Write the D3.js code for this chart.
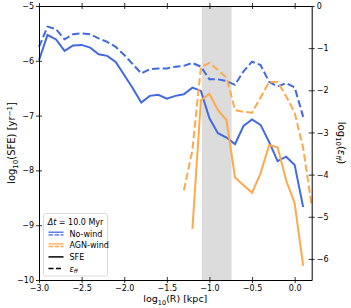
<!DOCTYPE html>
<html>
<head>
<meta charset="utf-8">
<script src="https://cdn.jsdelivr.net/npm/d3@7"></script>
<style>
  body { margin: 0; background: #fff; }
  text { font-family: "DejaVu Sans", sans-serif; fill: #000; }
</style>
</head>
<body>
<div id="canvas"></div>
<script>
// log10(R) [kpc]
const radius = [-3.0, -2.9, -2.8, -2.7, -2.6, -2.5, -2.4, -2.3, -2.2, -2.1, -2.0,
  -1.9, -1.8, -1.7, -1.6, -1.5, -1.4, -1.3, -1.2, -1.1, -1.0,
  -0.9, -0.8, -0.7, -0.6, -0.5, -0.4, -0.3, -0.2, -0.1, 0.0, 0.1, 0.2];

// log10(SFE), left axis
const noWindSFE = [-5.99, -5.53, -5.61, -5.82, -5.72, -5.71, -5.76, -5.88, -5.91, -6.02, -6.26,
  -6.50, -6.76, -6.64, -6.62, -6.69, -6.64, -6.61, -6.49, -6.55, -7.05,
  -7.32, -7.40, -7.52, -7.19, -7.07, -7.17, -7.48, -7.83, -7.75, -7.90, -8.67, null];
const agnWindSFE = [null, null, null, null, null, null, null, null, null, null, null,
  null, null, null, null, null, null, null, -9.07, -6.72, -6.60,
  -6.90, -7.08, -8.13, -8.27, -8.41, -8.05, -7.54, -7.58, -8.18, -8.60, -9.74, null];

// log10(eps_ff), right axis
const noWindEff = [-0.97, -0.49, -0.55, -0.79, -0.67, -0.65, -0.67, -0.77, -0.85, -0.97, -1.16,
  -1.38, -1.60, -1.50, -1.48, -1.48, -1.44, -1.42, -1.35, -1.44, -1.74,
  -1.74, -1.78, -1.87, -1.55, -1.32, -1.40, -1.80, -1.91, -1.83, -1.93, -2.63, null];
const agnWindEff = [null, null, null, null, null, null, null, null, null, null, null,
  null, null, null, null, null, null, -4.37, -3.42, -1.45, -1.35,
  -1.52, -1.70, -2.47, -2.51, -2.53, -2.17, -1.80, -1.80, -2.14, -2.53, -3.37, -4.74];

const band = [-1.09, -0.74];
const xTicks = [-3.0, -2.5, -2.0, -1.5, -1.0, -0.5, 0.0];
const yTicksLeft = [-5, -6, -7, -8, -9, -10];
const yTicksRight = [0, -1, -2, -3, -4, -5, -6];

const width = 351;
const height = 308;
const margin = { top: 6, left: 39, bottom: 28, right: 39.3 };
const iwidth = width - margin.left - margin.right;
const iheight = height - margin.top - margin.bottom;

const blue = "#4169e1";
const orange = "#ffa94d";

const svg = d3.select("#canvas").append("svg")
  .attr("width", width)
  .attr("height", height);

const g = svg.append("g").attr("transform", `translate(${margin.left},${margin.top})`);

const x = d3.scaleLinear().domain([-3.0, 0.2]).range([0, iwidth]);
const yL = d3.scaleLinear().domain([-10, -5]).range([iheight, 0]);
const yR = d3.scaleLinear().domain([-6.5, 0]).range([iheight, 0]);

const fmt = v => (v < 0 ? "\u2212" : "") + Math.abs(v).toFixed(1);
const fmtInt = v => (v < 0 ? "\u2212" : "") + Math.abs(v);

// shaded region
g.append("rect")
  .attr("x", x(band[0]))
  .attr("y", 0)
  .attr("width", x(band[1]) - x(band[0]))
  .attr("height", iheight)
  .attr("fill", "#dcdcdc");

// lines
function drawLine(values, scale, color, dashed) {
  const line = d3.line()
    .defined(d => d[1] !== null)
    .x(d => x(d[0]))
    .y(d => scale(d[1]));
  g.append("path")
    .datum(radius.map((r, i) => [r, values[i]]))
    .attr("fill", "none")
    .attr("stroke", color)
    .attr("stroke-width", 2)
    .attr("stroke-linejoin", "miter")
    .attr("stroke-dasharray", dashed ? "7.4,3.2" : null)
    .attr("d", line);
}

drawLine(noWindSFE, yL, blue, false);
drawLine(agnWindSFE, yL, orange, false);
drawLine(noWindEff, yR, blue, true);
drawLine(agnWindEff, yR, orange, true);

// axes
const xAxis = g.append("g")
  .attr("transform", `translate(0,${iheight})`)
  .call(d3.axisBottom(x).tickValues(xTicks).tickFormat(fmt).tickSizeInner(3).tickSizeOuter(0).tickPadding(2));
xAxis.selectAll(".tick line").attr("y1", -3);

const xTop = g.append("g")
  .call(d3.axisTop(x).tickValues(xTicks).tickFormat("").tickSizeInner(3).tickSizeOuter(0));
xTop.selectAll(".tick line").attr("y1", 3);

const yAxisL = g.append("g")
  .call(d3.axisLeft(yL).tickValues(yTicksLeft).tickFormat(fmtInt).tickSizeInner(3).tickSizeOuter(0).tickPadding(2));
yAxisL.selectAll(".tick line").attr("x1", 3);

const yAxisR = g.append("g")
  .attr("transform", `translate(${iwidth},0)`)
  .call(d3.axisRight(yR).tickValues(yTicksRight).tickFormat(fmtInt).tickSizeInner(3).tickSizeOuter(0).tickPadding(2));
yAxisR.selectAll(".tick line").attr("x1", -3);

[xAxis, xTop, yAxisL, yAxisR].forEach(a => {
  a.select(".domain").attr("stroke", "#000").attr("stroke-width", 1);
  a.selectAll(".tick line").attr("stroke", "#000").attr("stroke-width", 0.8);
  a.selectAll(".tick text").style("font-size", "8px").style("font-family", "DejaVu Sans");
});

// axis labels
const xl = svg.append("text")
  .attr("x", margin.left + iwidth / 2)
  .attr("y", 302)
  .attr("text-anchor", "middle")
  .style("font-size", "9.5px");
xl.append("tspan").text("log");
xl.append("tspan").attr("dy", 2.5).style("font-size", "6.5px").text("10");
xl.append("tspan").attr("dy", -2.5).text("(R) [kpc]");

const yl = svg.append("text")
  .attr("transform", `translate(15,${margin.top + iheight / 2}) rotate(-90)`)
  .attr("text-anchor", "middle")
  .style("font-size", "10px");
yl.append("tspan").text("log");
yl.append("tspan").attr("dy", 2.5).style("font-size", "7px").text("10");
yl.append("tspan").attr("dy", -2.5).text("(SFE) [yr");
yl.append("tspan").attr("dy", -3.5).style("font-size", "7px").text("\u22121");
yl.append("tspan").attr("dy", 3.5).text("]");

const yr = svg.append("text")
  .attr("transform", `translate(338,${margin.top + iheight / 2}) rotate(90)`)
  .attr("text-anchor", "middle")
  .style("font-size", "10px");
yr.append("tspan").text("log");
yr.append("tspan").attr("dy", 2.5).style("font-size", "7px").text("10");
yr.append("tspan").attr("dy", -2.5).text("(");
yr.append("tspan").style("font-style", "italic").text("\u03b5");
yr.append("tspan").attr("dy", 2).style("font-size", "7px").style("font-style", "italic").text("ff");
yr.append("tspan").attr("dy", -2).text(")");

// legend
const lg = svg.append("g").attr("transform", "translate(43.5,213.5)");
lg.append("rect")
  .attr("width", 64)
  .attr("height", 62.5)
  .attr("rx", 2)
  .attr("fill", "#fff")
  .attr("fill-opacity", 0.8)
  .attr("stroke", "#d0d0d0")
  .attr("stroke-width", 0.8);

const title = lg.append("text")
  .attr("x", 32)
  .attr("y", 11)
  .attr("text-anchor", "middle")
  .style("font-size", "8px");
title.append("tspan").style("font-style", "italic").text("\u0394t");
title.append("tspan").text(" = 10.0 Myr");

const entries = [
  { label: "No-wind", color: blue, pair: true },
  { label: "AGN-wind", color: orange, pair: true },
  { label: "SFE", color: "#000", pair: false, dashed: false },
  { label: "eff", color: "#000", pair: false, dashed: true }
];

entries.forEach((e, i) => {
  const yy = 20 + i * 11.7;
  if (e.pair) {
    lg.append("line").attr("x1", 5).attr("x2", 20).attr("y1", yy - 1.3).attr("y2", yy - 1.3)
      .attr("stroke", e.color).attr("stroke-width", 1.3);
    lg.append("line").attr("x1", 5).attr("x2", 20).attr("y1", yy + 1.3).attr("y2", yy + 1.3)
      .attr("stroke", e.color).attr("stroke-width", 1.3).attr("stroke-dasharray", "4.5,1.5");
  } else {
    lg.append("line").attr("x1", 5).attr("x2", 20).attr("y1", yy).attr("y2", yy)
      .attr("stroke", e.color).attr("stroke-width", 1.5)
      .attr("stroke-dasharray", e.dashed ? "5,2.5" : null);
  }
  const t = lg.append("text").attr("x", 26).attr("y", yy + 3).style("font-size", "8px");
  if (e.label === "eff") {
    t.append("tspan").style("font-style", "italic").text("\u03b5");
    t.append("tspan").attr("dy", 1.8).style("font-size", "5.5px").style("font-style", "italic").text("ff");
  } else {
    t.text(e.label);
  }
});
</script>
</body>
</html>
